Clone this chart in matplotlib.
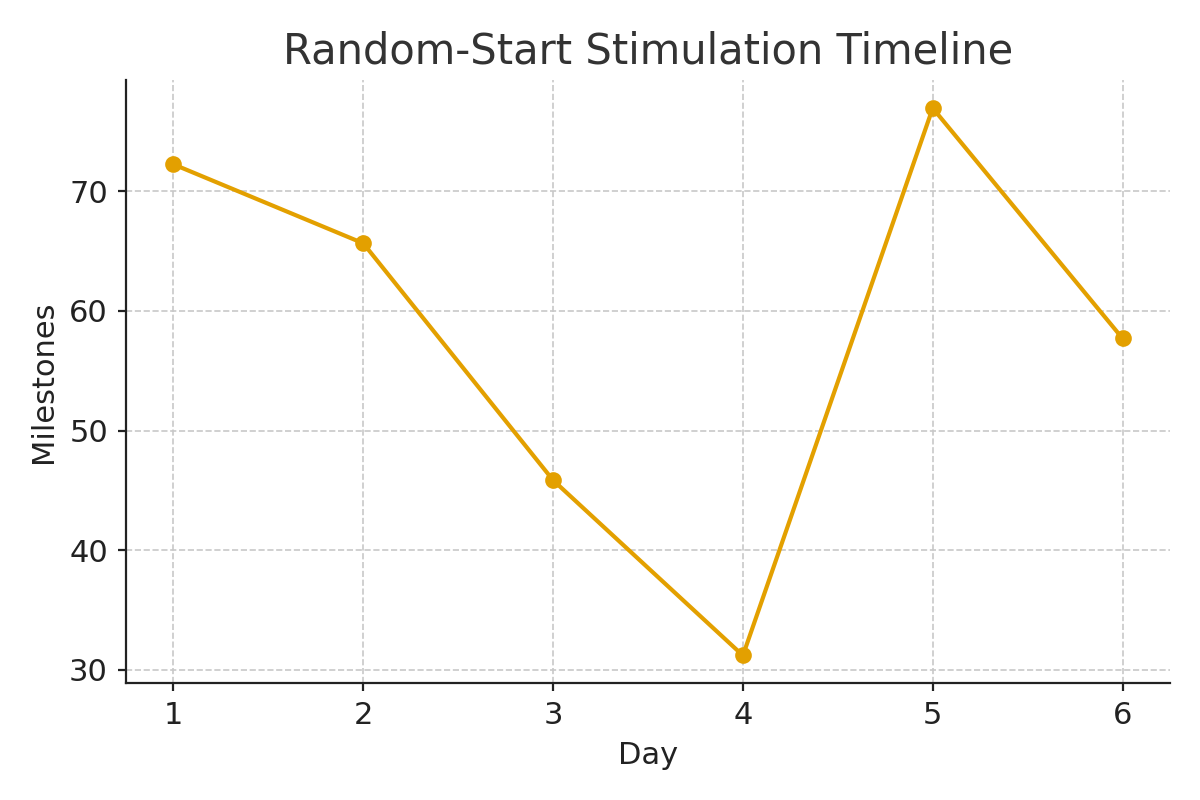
import matplotlib
matplotlib.use("Agg")
import matplotlib.pyplot as plt

days = [1, 2, 3, 4, 5, 6]
milestones = [72.25, 65.65, 45.85, 31.2, 76.95, 57.7]

fig = plt.figure(figsize=(6, 4), dpi=200)
ax = fig.add_axes([126/1200, 1-683/800, (1170-126)/1200, (683-80)/800])
ax.plot(days, milestones, color="#E3A000", linewidth=1.5, marker="o", markersize=5)
ax.set_title("Random-Start Stimulation Timeline", fontsize=15, color="#333333")
ax.set_xlabel("Day", fontsize=11, color="#222222")
ax.set_ylabel("Milestones", fontsize=11, color="#222222")
ax.set_xticks(days)
ax.set_yticks([30, 40, 50, 60, 70])
ax.set_xlim(0.75, 6.25)
ax.set_ylim(28.9, 79.3)
ax.grid(True, linestyle="--", linewidth=0.6, color="#c8c8c8")
ax.set_axisbelow(True)
for s in ["top", "right"]:
    ax.spines[s].set_visible(False)
for s in ["left", "bottom"]:
    ax.spines[s].set_color("#222222")
ax.tick_params(labelsize=11, colors="#222222", length=3)
fig.savefig("out.png", dpi=200)
